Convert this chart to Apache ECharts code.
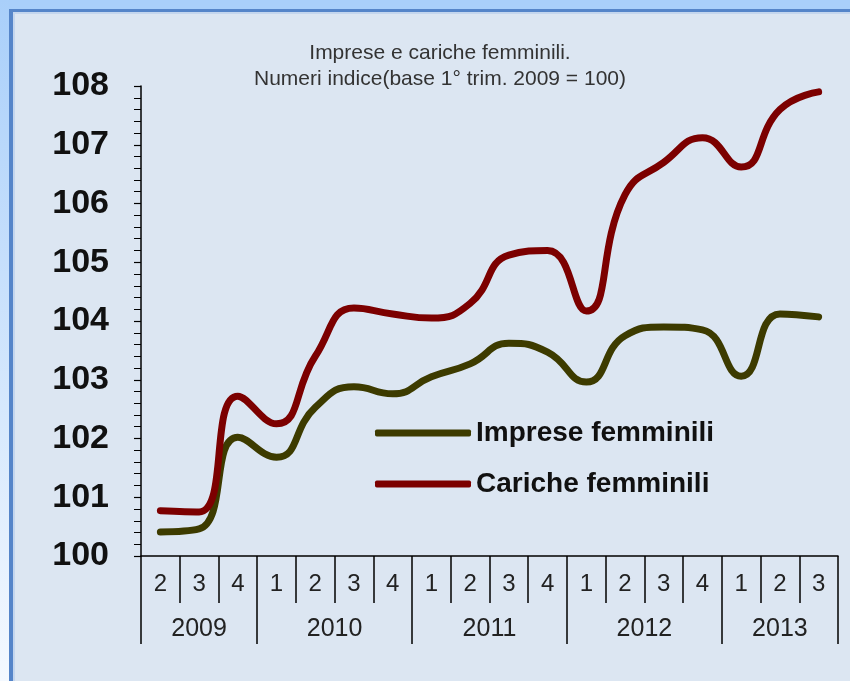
<!DOCTYPE html>
<html>
<head>
<meta charset="utf-8">
<script src="https://cdn.jsdelivr.net/npm/echarts@6/dist/echarts.min.js"></script>
<style>
html,body{margin:0;padding:0;background:#dce6f2;}
#chart{width:850px;height:681px;}
</style>
</head>
<body>
<div id="chart"></div>
<script>
// Data
const quarters = ['2','3','4','1','2','3','4','1','2','3','4','1','2','3','4','1','2','3'];
const yearLabels = ['2009','2010','2011','2012','2013'];
const yearBoundaries = [0, 3, 7, 11, 15, 18];
const yearCenters = [1.5, 5, 9, 13, 16.5];
const imprese = [100.41, 100.46, 102.02, 101.68, 102.53, 102.88, 102.76, 103.05, 103.27, 103.62, 103.47, 102.96, 103.75, 103.9, 103.85, 103.06, 104.12, 104.07];
const cariche = [100.77, 100.75, 102.72, 102.25, 103.4, 104.22, 104.12, 104.05, 104.3, 105.12, 105.2, 104.17, 106.15, 106.7, 107.12, 106.62, 107.6, 107.9];
const seriesNames = ['Imprese femminili', 'Cariche femminili'];

const FONT = '"Liberation Sans", Arial, sans-serif';
const chart = echarts.init(document.getElementById('chart'));
const yearMap = {};
yearCenters.forEach((c, i) => { yearMap[c] = yearLabels[i]; });

chart.setOption({
  backgroundColor: '#dce6f2',
  animation: false,
  textStyle: { fontFamily: FONT },
  graphic: [
    { type: 'rect', shape: { x: 0, y: 0, width: 850, height: 9 }, style: { fill: '#a9cffa' }, silent: true },
    { type: 'rect', shape: { x: 0, y: 0, width: 9, height: 681 }, silent: true,
      style: { fill: { type: 'linear', x: 0, y: 0, x2: 0, y2: 1, colorStops: [{ offset: 0, color: '#a9cffa' }, { offset: 1, color: '#f4f9ff' }] } } },
    { type: 'rect', shape: { x: 9, y: 9, width: 841, height: 3 }, style: { fill: '#5585c9' }, silent: true },
    { type: 'rect', shape: { x: 9, y: 9, width: 4, height: 672 }, style: { fill: '#5585c9' }, silent: true },
    { type: 'rect', shape: { x: 13, y: 12, width: 837, height: 2 }, style: { fill: '#c4d6ee' }, silent: true },
    { type: 'rect', shape: { x: 13, y: 12, width: 2, height: 669 }, style: { fill: '#c4d6ee' }, silent: true }
  ],
  title: {
    text: 'Imprese e cariche femminili.\nNumeri indice(base 1° trim. 2009 = 100)',
    left: 435, top: 35, textAlign: 'center',
    textStyle: { fontFamily: FONT, fontSize: 21, fontWeight: 'normal', color: '#333', lineHeight: 26 }
  },
  legend: {
    orient: 'vertical', left: 370, top: 414,
    itemWidth: 96, itemHeight: 7, icon: 'roundRect', itemGap: 23,
    textStyle: { fontFamily: FONT, fontSize: 28, fontWeight: 'bold', color: '#111' },
    data: seriesNames
  },
  grid: { left: 141, right: 12, top: 86, bottom: 125, containLabel: false },
  xAxis: [
    {
      type: 'category', data: quarters, position: 'bottom', boundaryGap: true,
      axisLine: { show: true, lineStyle: { color: '#000', width: 1.5 } },
      axisTick: { show: true, interval: 0, length: 47, lineStyle: { color: '#000', width: 1.5 } },
      axisLabel: { interval: 0, margin: 16, fontSize: 24, color: '#222', fontFamily: FONT },
      splitLine: { show: false }
    },
    {
      type: 'value', min: 0, max: 18, position: 'bottom',
      axisLine: { show: false },
      axisTick: { show: true, customValues: yearBoundaries, length: 88, lineStyle: { color: '#000', width: 1.5 } },
      axisLabel: { customValues: yearCenters, margin: 61, fontSize: 25, color: '#222', fontFamily: FONT,
        formatter: v => yearMap[v] || '' },
      splitLine: { show: false }
    }
  ],
  yAxis: {
    type: 'value', min: 100, max: 108, interval: 1,
    axisLine: { show: true, lineStyle: { color: '#000', width: 1.5 } },
    axisTick: { show: true, length: 7, lineStyle: { color: '#000', width: 1.2 } },
    minorTick: { show: true, splitNumber: 5, length: 7, lineStyle: { color: '#000', width: 1 } },
    axisLabel: { margin: 32, fontSize: 34, fontWeight: 'bold', color: '#111', fontFamily: FONT },
    splitLine: { show: false }
  },
  series: [
    { name: seriesNames[0], type: 'line', data: imprese, smooth: 0.5, symbol: 'none',
      lineStyle: { width: 7, color: '#3d3b00', cap: 'round' }, itemStyle: { color: '#3d3b00' } },
    { name: seriesNames[1], type: 'line', data: cariche, smooth: 0.5, symbol: 'none',
      lineStyle: { width: 7, color: '#7c0000', cap: 'round' }, itemStyle: { color: '#7c0000' } }
  ]
});
</script>
</body>
</html>
